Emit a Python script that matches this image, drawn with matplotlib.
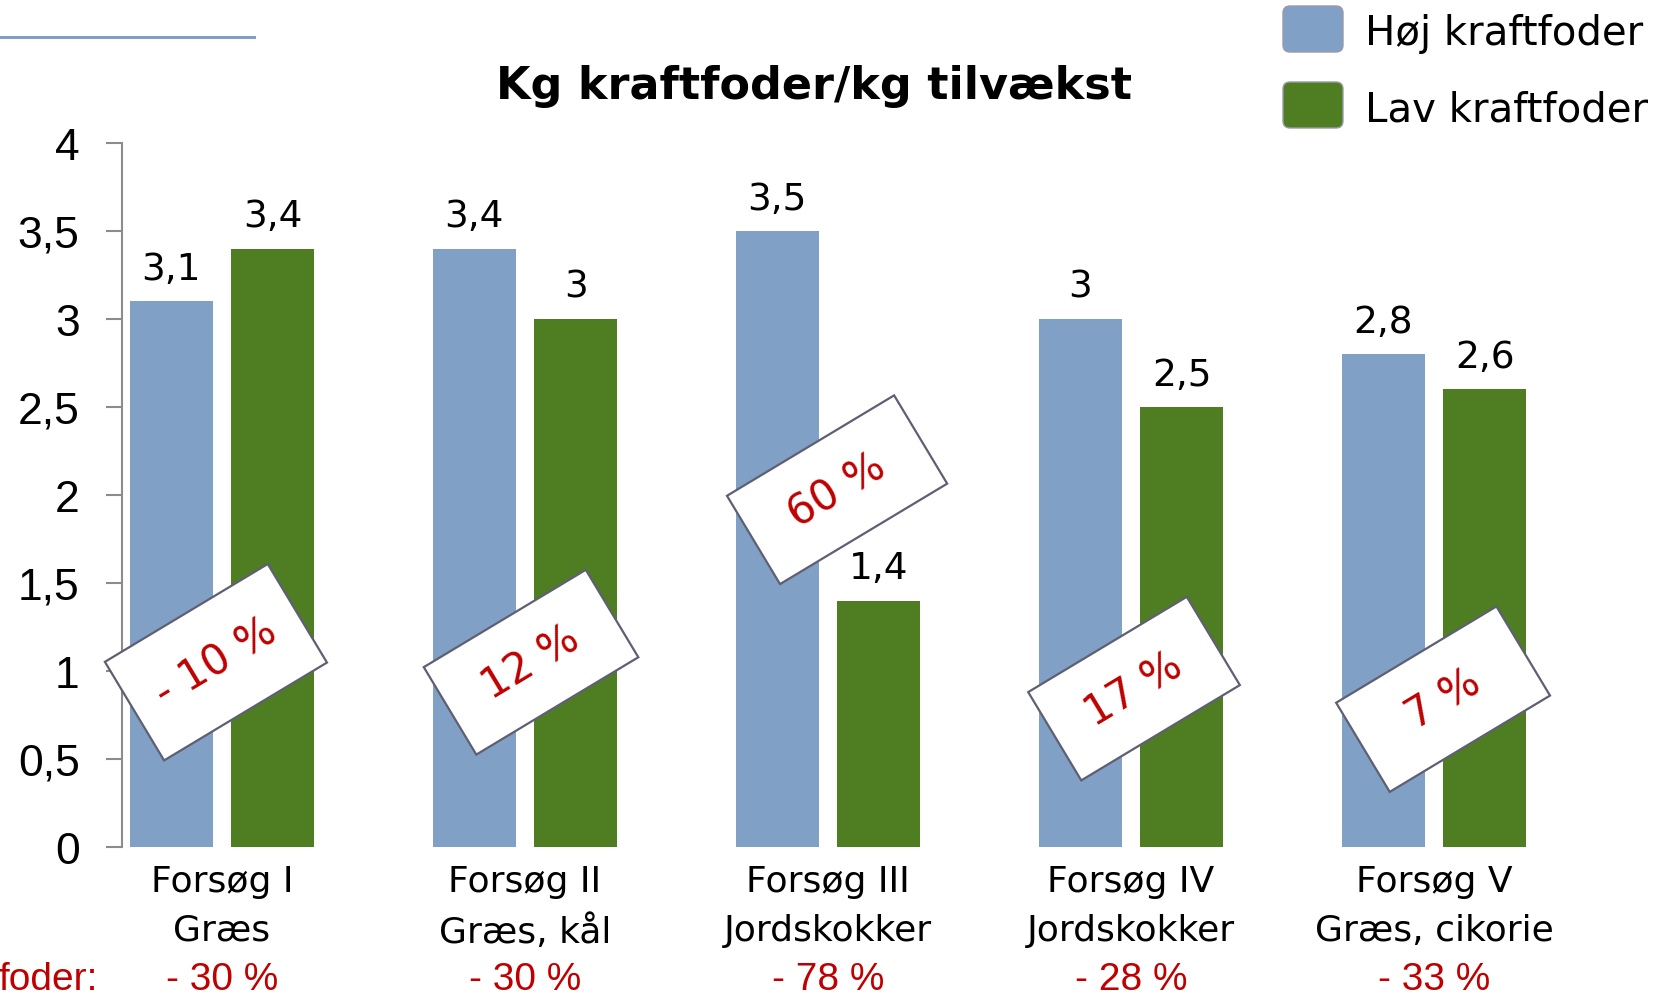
import matplotlib
matplotlib.use("Agg")
import matplotlib.pyplot as plt
import matplotlib.transforms as mtransforms
from matplotlib.patches import Rectangle, FancyBboxPatch
import numpy as np

# data
categories = ["Forsøg I\nGræs", "Forsøg II\nGræs, kål", "Forsøg III\nJordskokker",
              "Forsøg IV\nJordskokker", "Forsøg V\nGræs, cikorie"]
hoej = [3.1, 3.4, 3.5, 3.0, 2.8]
lav = [3.4, 3.0, 1.4, 2.5, 2.6]
diff_labels = ["- 10 %", "12 %", "60 %", "17 %", "7 %"]
kraftfoder_red = ["- 30 %", "- 30 %", "- 78 %", "- 28 %", "- 33 %"]

BLUE = "#80A0C6"
GREEN = "#4F7E22"
RED = "#C00000"
GRAY = "#8C8C8C"
MAIN_FONT = ["DejaVu Sans"]
ARIAL = ["Liberation Sans", "DejaVu Sans"]

W, H = 1669, 995
fig = plt.figure(figsize=(W / 100, H / 100), dpi=100)

# axes placed in pixel terms
left_px, right_px, top_px, bot_px = 122, 1585.5, 144, 848
ax = fig.add_axes([left_px / W, 1 - bot_px / H, (right_px - left_px) / W, (bot_px - top_px) / H])

x = np.arange(len(categories))
bw = 0.274
off = 0.168
ax.bar(x - off, hoej, bw, color=BLUE, zorder=2)
ax.bar(x + off, lav, bw, color=GREEN, zorder=2)

ax.set_xlim(-0.33, 4.5)
ax.set_ylim(0, 4)
ax.set_yticks(np.arange(0, 4.01, 0.5))
ax.set_yticklabels([f"{v:g}".replace(".", ",") for v in np.arange(0, 4.01, 0.5)],
                   family=ARIAL, fontsize=32)
ax.set_xticks(x)
ax.set_xticklabels(categories, family=MAIN_FONT, fontsize=26, linespacing=1.55)
ax.tick_params(axis="x", length=0, pad=12)
ax.tick_params(axis="y", length=11.5, width=1.5, color=GRAY, pad=19, direction="out")
for s in ["top", "right", "bottom"]:
    ax.spines[s].set_visible(False)
ax.spines["left"].set_color(GRAY)
ax.spines["left"].set_linewidth(1.5)

# value labels
for xs, vals in [(x - off, hoej), (x + off, lav)]:
    for xi, v in zip(xs, vals):
        ax.annotate(f"{v:g}".replace(".", ","), (xi, v), xytext=(0, 16),
                    textcoords="offset points", ha="center", va="baseline",
                    fontsize=27, family=MAIN_FONT)

# rotated difference boxes
box_x = [-0.02, 1.02, 2.03, 3.01, 4.03]
box_y = [1.05, 1.05, 2.03, 0.9, 0.84]
box_w = [190, 189, 195, 185, 187]
box_h = [115, 102, 103, 103, 104]
angle = 31
for bx, by, w, h, lab in zip(box_x, box_y, box_w, box_h, diff_labels):
    tr = mtransforms.Affine2D().rotate_deg(angle) + mtransforms.ScaledTranslation(bx, by, ax.transData)
    rect = Rectangle((-w / 2, -h / 2), w, h, transform=tr, facecolor="white",
                     edgecolor="#5F5F73", linewidth=1.6, zorder=5, clip_on=False)
    ax.add_artist(rect)
    ax.text(bx, by, lab, rotation=angle, rotation_mode="anchor", ha="center", va="center",
            color=RED, fontsize=30, family=MAIN_FONT, zorder=6)

# red bottom row
btr = mtransforms.blended_transform_factory(ax.transData, fig.transFigure)
for xi, lab in zip(x, kraftfoder_red):
    ax.text(xi, 1 - 980 / H, lab, transform=btr, ha="center", va="center",
            color=RED, fontsize=28, family=ARIAL, clip_on=False)

# overlay in pixel coordinates for title, legend and decoration
ov = fig.add_axes([0, 0, 1, 1], zorder=10)
ov.set_xlim(0, W)
ov.set_ylim(H, 0)
ov.axis("off")
ov.patch.set_alpha(0)

ov.plot([0, 254], [38, 38], color="#7F9FC6", linewidth=2.2)
ov.text(814, 86, "Kg kraftfoder/kg tilvækst", ha="center", va="center",
        fontsize=32, fontweight="bold", family=MAIN_FONT)
ov.text(98, 980, "foder:", ha="right", va="center", color=RED, fontsize=28, family=ARIAL)

for yc, col, lab in [(30, BLUE, "Høj kraftfoder"), (106, GREEN, "Lav kraftfoder")]:
    ov.add_patch(FancyBboxPatch((1286, yc - 20), 54, 40,
                                boxstyle="round,pad=3,rounding_size=7",
                                facecolor=col, edgecolor="#9A9AA8", linewidth=1))
    ov.text(1365, yc + 4, lab, ha="left", va="center", fontsize=29, family=MAIN_FONT)

fig.savefig("out.png", dpi=100, facecolor="white")
